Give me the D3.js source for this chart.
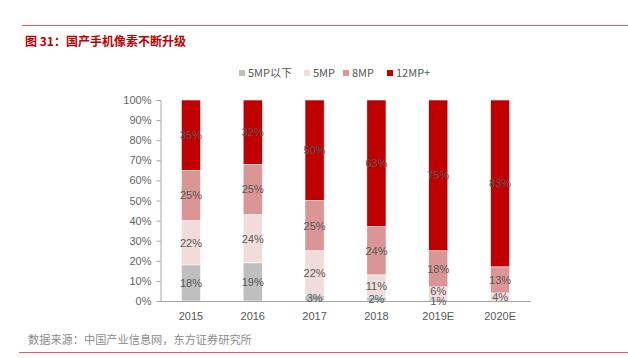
<!DOCTYPE html>
<html><head><meta charset="utf-8">
<script src="https://cdn.jsdelivr.net/npm/d3@7"></script>
<style>body{margin:0;background:#fff;}svg{display:block;font-family:"Noto Sans CJK SC","Liberation Sans",sans-serif;}</style>
</head><body>
<svg id="c" width="628" height="358"></svg>
<script>
const categories = ["2015","2016","2017","2018","2019E","2020E"];
const seriesNames = ["5MP以下","5MP","8MP","12MP+"];
const s5below = [18,19,3,2,1,0];
const s5 = [22,24,22,11,6,4];
const s8 = [25,25,25,24,18,13];
const s12 = [35,32,50,63,75,83];
const yTicks = [0,10,20,30,40,50,60,70,80,90,100];
const colors = ["#BFBFBF","#F2DCDB","#D99694","#C00000"];
const title = "图 31：国产手机像素不断升级";
const source = "数据来源：中国产业信息网，东方证券研究所";

const svg = d3.select("#c");
// frame lines
svg.append("line").attr("x1",22).attr("x2",628).attr("y1",25.5).attr("y2",25.5).attr("stroke","#E46060").attr("stroke-width",1);
svg.append("line").attr("x1",19).attr("x2",628).attr("y1",352.5).attr("y2",352.5).attr("stroke","#E46060").attr("stroke-width",1);
svg.append("text").attr("x",25).attr("y",46).text(title).attr("fill","#C00000").attr("font-size",12).attr("font-weight","bold");
svg.append("text").attr("x",28).attr("y",344).text(source).attr("fill","#8C8C8C").attr("font-size",11.2);

const x = d3.scaleBand().domain(categories).range([160,531]).paddingInner(0.69).paddingOuter(0.345);
const y = d3.scaleLinear().domain([0,100]).range([301,100]);

const data = categories.map((c,i)=>({cat:c, v:[s5below[i],s5[i],s8[i],s12[i]]}));
const stack = d3.stack().keys([0,1,2,3]).value((d,k)=>d.v[k]);
const layers = stack(data);

// y axis
const yAxis = d3.axisLeft(y).tickValues(yTicks).tickFormat(d=>d+"%").tickSize(4).tickPadding(5);
const gy = svg.append("g").attr("transform","translate(160.5,0)").call(yAxis);
gy.selectAll("path,line").attr("stroke","#A6A6A6");
gy.select("path").attr("d","M-4,100.5H0.5V301.5H-4");
gy.selectAll("text").attr("fill","#666666").attr("font-size",11).attr("font-family","Liberation Sans, sans-serif");

layers.forEach((layer,k)=>{
  svg.append("g").selectAll("rect").data(layer).join("rect")
    .attr("x",d=>x(d.data.cat)).attr("width",x.bandwidth())
    .attr("y",d=>y(d[1])).attr("height",d=>y(d[0])-y(d[1]))
    .attr("fill",colors[k]).attr("stroke","#fff").attr("stroke-width",0.6);
});

// x axis
const gx = svg.append("g").attr("transform","translate(0,301.5)").call(d3.axisBottom(x).tickSize(0).tickPadding(11));
gx.select("path").attr("stroke","#A6A6A6").attr("d","M160,0H531");
gx.selectAll("text").attr("fill","#595959").attr("font-size",11).attr("font-family","Liberation Sans, sans-serif");

// labels
layers.forEach((layer,k)=>{
  svg.append("g").selectAll("text").data(layer.filter(d=>d[1]-d[0]>0)).join("text")
    .attr("x",d=>x(d.data.cat)+x.bandwidth()/2)
    .attr("y",d=>y((d[0]+d[1])/2)+4 + (d[1]-d[0]<=1 ? 1.5 : 0) - (d.data.cat==="2019E" && k===1 ? 1.5 : 0))
    .attr("text-anchor","middle").attr("fill","#595959").attr("font-size",11)
    .attr("font-family","Liberation Sans, sans-serif")
    .text(d=>(d[1]-d[0])+"%");
});

// legend
const lx = [239,304,343,387];
seriesNames.forEach((n,i)=>{
  const g = svg.append("g");
  g.append("rect").attr("x",lx[i]).attr("y",70).attr("width",6).attr("height",6).attr("fill",colors[i]);
  g.append("text").attr("x",lx[i]+9).attr("y",77).text(n).attr("fill","#595959").attr("font-size",11);
});
</script>
</body></html>
